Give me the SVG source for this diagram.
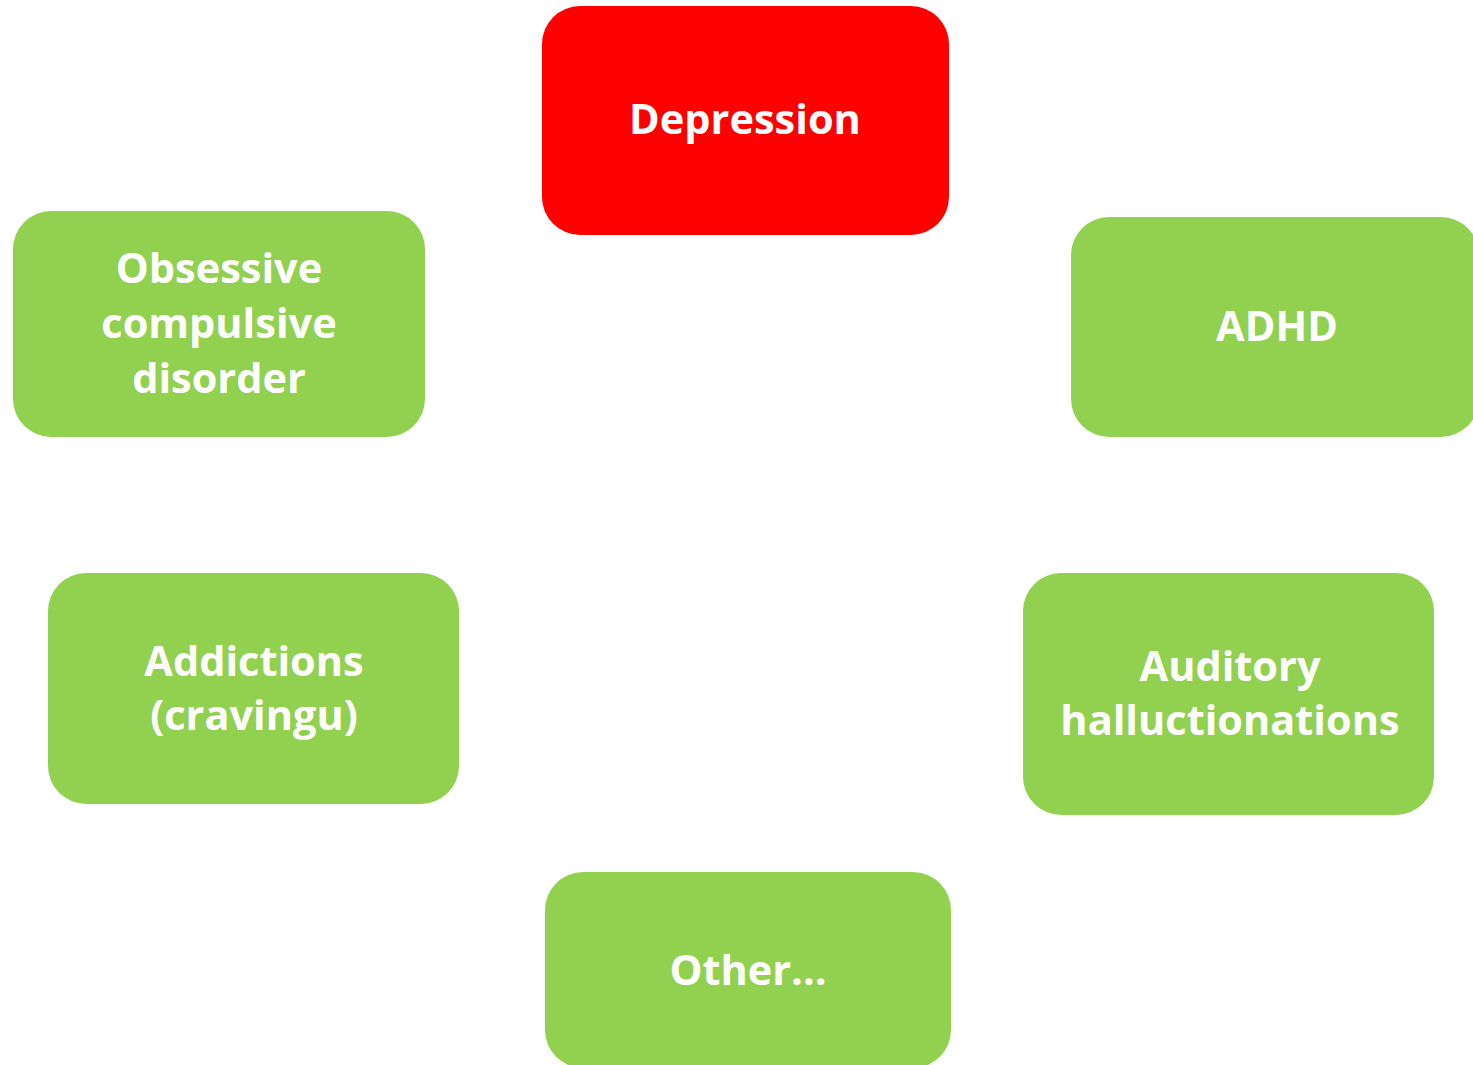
<svg xmlns="http://www.w3.org/2000/svg" width="1473" height="1065" viewBox="0 0 1473 1065">
<style>
.box{fill:#92D050}
.red{fill:#FF0000}
.t{fill:#FFFFFF;font-family:"Open Sans","Liberation Sans",sans-serif;font-weight:700;font-size:41.5px;text-anchor:middle}
</style>
<rect width="1473" height="1065" fill="#FFFFFF"/>
<g id="connectors"/>
<g id="depression">
<rect class="red" x="542" y="6" width="407" height="229" rx="38"/>
<text class="t" x="745" y="134">Depression</text>
</g>
<g id="adhd">
<rect class="box" x="1071" y="217" width="408" height="220" rx="38"/>
<text class="t" x="1277" y="341">ADHD</text>
</g>
<g id="ocd">
<rect class="box" x="13" y="211" width="412" height="226" rx="38"/>
<text class="t" x="219" y="283">Obsessive</text>
<text class="t" x="219" y="338">compulsive</text>
<text class="t" x="219" y="393">disorder</text>
</g>
<g id="addictions">
<rect class="box" x="48" y="573" width="411" height="231" rx="38"/>
<text class="t" x="254" y="676">Addictions</text>
<text class="t" x="254" y="730">(cravingu)</text>
</g>
<g id="auditory">
<rect class="box" x="1023" y="573" width="411" height="242" rx="38"/>
<text class="t" x="1230" y="681">Auditory</text>
<text class="t" x="1230" y="735">halluctionations</text>
</g>
<g id="other">
<rect class="box" x="545" y="872" width="406" height="196" rx="38"/>
<text class="t" x="748" y="985">Other...</text>
</g>
</svg>
